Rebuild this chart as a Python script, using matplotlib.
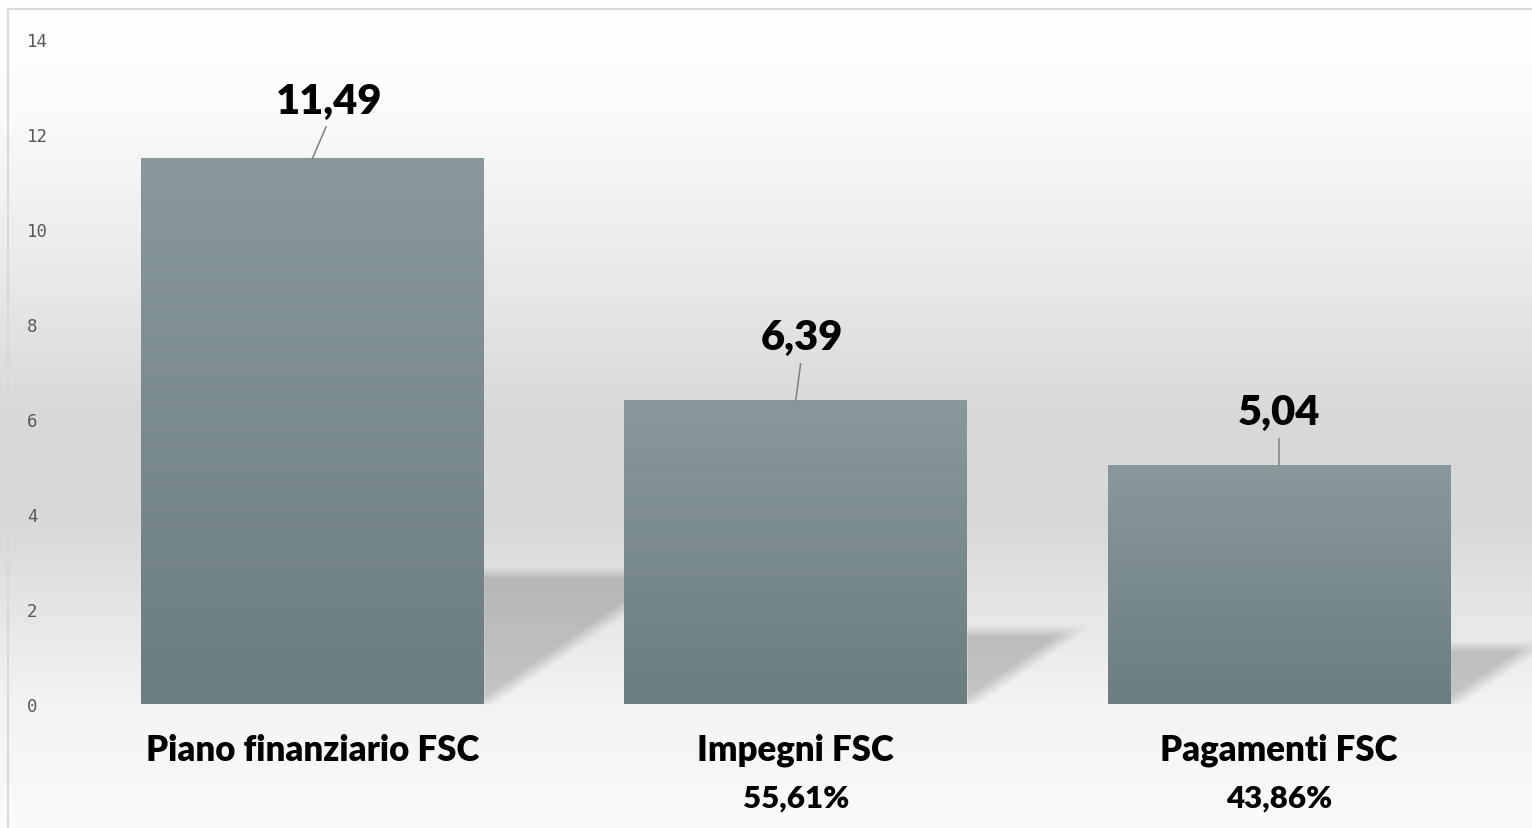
import numpy as np
import matplotlib
matplotlib.use("Agg")
import matplotlib.pyplot as plt
from matplotlib.patches import Rectangle
from matplotlib.lines import Line2D

# ---- data ----
categories = ["Piano finanziario FSC", "Impegni FSC", "Pagamenti FSC"]
values = [11.49, 6.39, 5.04]
value_labels = ["11,49", "6,39", "5,04"]
percent_labels = ["", "55,61%", "43,86%"]
yticks = [0, 2, 4, 6, 8, 10, 12, 14]

W, H, DPI = 1532, 829, 100
fig = plt.figure(figsize=(W / DPI, H / DPI), dpi=DPI)

# ---- main axes ----
ax_left_px, ax_right_px = 60, 1532
ax_bot_px, ax_top_px = H - 705, H - 40
ax = fig.add_axes([ax_left_px / W, ax_bot_px / H,
                   (ax_right_px - ax_left_px) / W, (ax_top_px - ax_bot_px) / H])
ax.patch.set_alpha(0)
x = np.arange(len(categories))
px_per_x = 483.25
c0 = 312.5
xl, xr = (ax_left_px - c0) / px_per_x, (ax_right_px - c0) / px_per_x
ax.set_xlim(xl, xr)
ax.set_ylim(0, 14)
width = 343 / px_per_x

for s in ax.spines.values():
    s.set_visible(False)
ax.set_xticks([])
ax.set_yticks(yticks)
ax.tick_params(axis="y", length=0, pad=0)
ax.set_yticklabels([str(t) for t in yticks], family="DejaVu Sans Mono",
                   fontsize=12.5, color="#595959", ha="left")
for lab in ax.get_yticklabels():
    lab.set_x(-(ax_left_px - 27) / (ax_right_px - ax_left_px))

# ---- background gradient + soft perspective shadows (pixel image) ----
bg = fig.add_axes([0, 0, 1, 1], zorder=-10)
ys_px = np.array([0, 100, 250, 420, 520, 600, 705, 829])
gv = np.array([255, 252, 236, 216, 216, 228, 243, 251]) / 255.0
rows = np.interp(np.arange(H), ys_px, gv)          # row 0 = top
PX, PY = np.meshgrid(np.arange(W) + 0.5, H - (np.arange(H) + 0.5))  # display coords
alpha = np.zeros((H, W))
slope_px = 0.68


def sstep(d, soft):
    return np.clip(0.5 + d / soft, 0, 1)


for xi, v in zip(x, values):
    (bx, by), = ax.transData.transform([(xi + width / 2, 0)])
    (_, ty), = ax.transData.transform([(xi, 0.24 * v)])
    u = PX - bx
    w = PY - by
    top_px = ty - by
    a = (sstep(top_px - w, 12) *
         sstep((w - slope_px * u) / np.hypot(1, slope_px), 14) *
         sstep(u, 2) * sstep(w, 2))
    alpha = np.maximum(alpha, 0.19 * a)
gray = rows[:, None] * (1 - alpha)
bg_img = np.dstack([gray, gray, gray])
bg.imshow(bg_img, aspect="auto", extent=[0, 1, 0, 1], interpolation="none")
bg.set_xlim(0, 1); bg.set_ylim(0, 1)
bg.axis("off")
bg.add_line(Line2D([8 / W, 8 / W], [0, 1 - 10 / H], color="#d9d9d9", lw=1.5))
bg.add_line(Line2D([8 / W, 1], [1 - 10 / H, 1 - 10 / H], color="#d9d9d9", lw=1.5))

# ---- gradient bars ----
top_c = np.array([0x88, 0x98, 0x9b]) / 255
bot_c = np.array([0x6c, 0x7d, 0x80]) / 255
grad = np.linspace(0, 1, 256)[:, None]
grad_img = top_c[None, None, :] * (1 - grad[..., None]) + bot_c[None, None, :] * grad[..., None]
for xi, v in zip(x, values):
    rect = Rectangle((xi - width / 2, 0), width, v, facecolor="none",
                     edgecolor="none", zorder=2)
    ax.add_patch(rect)
    im = ax.imshow(grad_img, extent=[xi - width / 2, xi + width / 2, 0, v],
                   aspect="auto", zorder=2, interpolation="bilinear")
    im.set_clip_path(rect)
ax.set_xlim(xl, xr); ax.set_ylim(0, 14)

# ---- value labels with leader lines ----
label_dx = [0.028, 0.010, 0.0]
line_top = [0.66, 0.77, 0.54]
label_base = [0.95, 1.08, 0.85]
for xi, v, lab, dx, lt, lb in zip(x, values, value_labels, label_dx, line_top, label_base):
    ax.add_line(Line2D([xi, xi + dx], [v, v + lt], color="#7f7f7f",
                       lw=1.1, zorder=3))
    ax.text(xi + dx * 1.25, v + lb, lab, ha="center", va="baseline",
            fontsize=30, fontweight="heavy", family="Lato", color="black")

# ---- category labels ----
for xi, cat, pct in zip(x, categories, percent_labels):
    ax.text(xi, -0.95, cat, ha="center", va="center", fontsize=25,
            fontweight="heavy", family="Lato", color="black")
    if pct:
        ax.text(xi, -1.97, pct, ha="center", va="center", fontsize=22.5,
                fontweight="heavy", family="Lato", color="black")

fig.savefig("out.png", dpi=DPI)
